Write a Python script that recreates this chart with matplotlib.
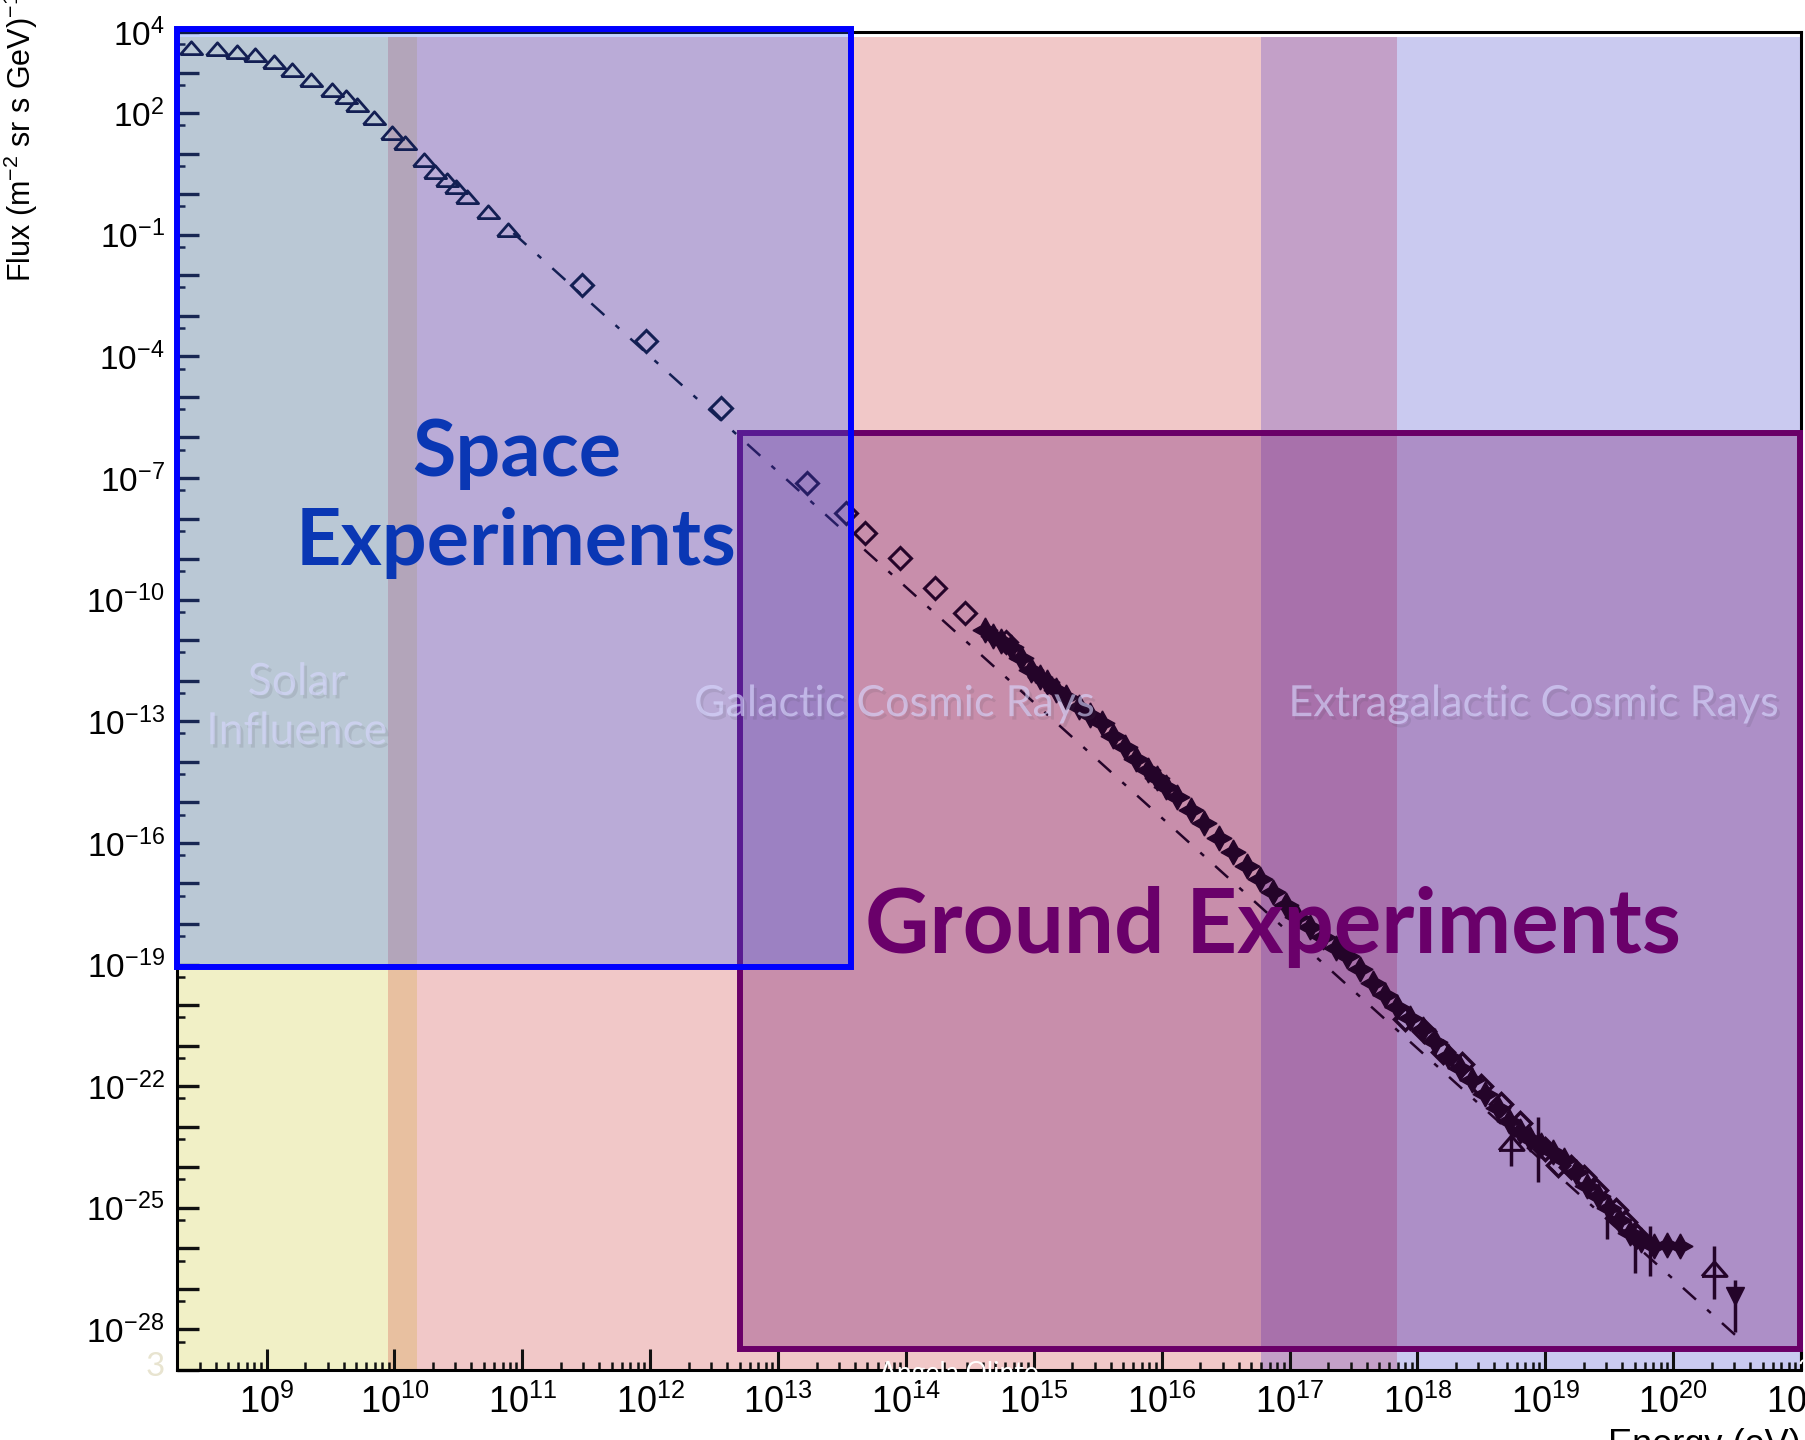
import numpy as np
import matplotlib.pyplot as plt
import matplotlib.ticker as mticker
import matplotlib.patheffects as pe
from matplotlib.patches import Rectangle

plt.rcParams['mathtext.fontset'] = 'custom'
plt.rcParams['mathtext.rm'] = 'Liberation Sans'
plt.rcParams['mathtext.it'] = 'Liberation Sans:italic'
plt.rcParams['mathtext.bf'] = 'Liberation Sans:bold'
plt.rcParams['font.family'] = ['Liberation Sans', 'DejaVu Sans']

# energy bands, log10(E/eV) edges
band_edges = [8.30, 9.95, 10.18, 16.78, 17.84, 21.0]
band_colors = ["#f1f0c6", "#e8c0a0", "#f1c8c8", "#c3a0c8", "#cacaf0"]

# low energy points (open triangles), log10 values
tri_logE = [8.41, 8.61, 8.77, 8.91, 9.06, 9.20, 9.35, 9.51, 9.62, 9.71,
            9.84, 9.98, 10.08, 10.23, 10.32, 10.41, 10.48, 10.57, 10.73, 10.89]
tri_logF = [3.60, 3.58, 3.50, 3.43, 3.26, 3.06, 2.82, 2.57, 2.39, 2.20,
            1.88, 1.52, 1.26, 0.84, 0.55, 0.35, 0.18, -0.07, -0.44, -0.88]

# direct measurements (open diamonds)
dia_logE = [11.47, 11.97, 12.55, 13.23, 13.53, 13.68, 13.95, 14.23, 14.46, 14.78]
dia_logF = [-2.24, -3.61, -5.28, -7.12, -7.86, -8.35, -8.97, -9.71, -10.32, -11.04]

# air shower data (filled stars)
star_logE = [14.62, 14.68, 14.74, 14.82, 14.90, 14.98, 15.05, 15.10, 15.17, 15.25,
             15.35, 15.44, 15.53, 15.62, 15.71, 15.80, 15.89, 15.96, 16.03, 16.12,
             16.23, 16.33, 16.45, 16.56, 16.67, 16.77, 16.87, 16.97, 17.06, 17.16,
             17.26, 17.36, 17.45, 17.55, 17.65, 17.75, 17.84, 17.94, 18.04, 18.14,
             18.24, 18.33, 18.43, 18.53, 18.63, 18.72, 18.80, 18.88, 18.97, 19.06,
             19.15, 19.24, 19.33, 19.41, 19.50, 19.58, 19.66, 19.75, 19.85, 19.95,
             20.05]
star_logF = [-10.74, -10.90, -11.02, -11.16, -11.45, -11.73, -11.90, -12.02, -12.22, -12.40,
             -12.64, -12.85, -13.04, -13.36, -13.63, -13.92, -14.19, -14.40, -14.61, -14.88,
             -15.18, -15.50, -15.88, -16.22, -16.58, -16.90, -17.22, -17.53, -17.82, -18.08,
             -18.32, -18.58, -18.80, -19.12, -19.45, -19.75, -20.04, -20.32, -20.60, -20.92,
             -21.25, -21.55, -21.85, -22.20, -22.55, -22.85, -23.10, -23.31, -23.45, -23.62,
             -23.81, -24.12, -24.45, -24.72, -25.00, -25.30, -25.61, -25.80, -25.95, -25.92,
             -25.95]

# open points in the dense UHE cloud
cloud_logE = [17.90, 18.05, 18.20, 18.35, 18.50, 18.65, 18.80, 19.00, 19.10, 19.20,
              19.30, 19.40, 19.55, 19.62, 19.72]
cloud_logF = [-20.35, -20.65, -21.15, -21.45, -22.00, -22.45, -22.90, -23.55, -23.95, -24.00,
              -24.25, -24.55, -25.05, -25.35, -25.70]

# points with error bars
err_logE = [18.73, 18.94, 19.48, 19.70, 19.82, 20.32, 20.48]
err_logF = [-23.39, -23.50, -25.20, -25.90, -26.00, -26.52, -27.18]
err_lo = [-23.98, -24.37, -25.78, -26.60, -26.69, -27.26, -28.07]
err_hi = [-22.82, -22.75, -24.80, -25.60, -25.46, -25.95, -26.77]

# reference power law (dash-dot)
line_logE = [10.93, 20.55]
line_logF = [-0.96, -28.32]

# experiment boxes: logE0, logE1, logF0, logF1
space_box = (8.30, 13.57, -19.05, 4.07)
ground_box = (12.70, 20.99, -28.47, -5.89)

yticks_labelled = [4, 2, -1, -4, -7, -10, -13, -16, -19, -22, -25, -28]


def p10(v):
    return np.power(10.0, np.asarray(v, dtype=float))


def box(ax, b, **kw):
    x0, x1, y0, y1 = p10(b)
    r = Rectangle((x0, y0), x1 - x0, y1 - y0, clip_on=False, **kw)
    ax.add_patch(r)


fig = plt.figure(figsize=(18.05, 14.4), dpi=100)
ax = fig.add_axes([0.0981, 0.0486, 0.8997, 0.9292])
ax.set_xscale('log')
ax.set_yscale('log')
ax.set_xlim(10 ** 8.30, 1e21)
ax.set_ylim(1e-29, 1e4)

for lo, hi, c in zip(band_edges[:-1], band_edges[1:], band_colors):
    ax.axvspan(10 ** lo, 10 ** hi, ymax=0.996, color=c, lw=0, zorder=0)

# data
ink = '#0a0612'
ax.plot(p10(line_logE), p10(line_logF), color=ink, lw=1.8, dashes=(7, 6, 2, 6), zorder=1.5)
flat_tri = [(-1, -0.55), (1, -0.55), (0, 0.6), (-1, -0.55)]
ax.plot(p10(tri_logE), p10(tri_logF), ls='none', marker=flat_tri, ms=16,
        mfc='none', mec=ink, mew=2, zorder=2)
ax.plot(p10(dia_logE), p10(dia_logF), ls='none', marker='D', ms=11,
        mfc='none', mec=ink, mew=2.2, zorder=2)
ax.plot(p10(cloud_logE), p10(cloud_logF), ls='none', marker='D', ms=11,
        mfc='none', mec=ink, mew=2.5, zorder=2)
ax.plot(p10(star_logE), p10(star_logF), ls='none', marker=(4, 1, 0), ms=18,
        color=ink, zorder=2)
ax.vlines(p10(err_logE), p10(err_lo), p10(err_hi), color=ink, lw=2.5, zorder=2)
ax.plot(p10([err_logE[0], err_logE[5]]), p10([err_logF[0], err_logF[5]]), ls='none',
        marker=flat_tri, ms=18, mfc='none', mec=ink, mew=2.2, zorder=2)
ax.plot(p10(err_logE[6]), p10(err_logF[6]), ls='none', marker='v', ms=13,
        color=ink, zorder=2)

# axes styling
for s in ax.spines.values():
    s.set_linewidth(2.2)
ax.xaxis.set_major_locator(mticker.LogLocator(base=10, numticks=40))
ax.xaxis.set_minor_locator(mticker.LogLocator(base=10, subs=np.arange(2, 10), numticks=40))
ax.xaxis.set_minor_formatter(mticker.NullFormatter())
ax.yaxis.set_major_locator(mticker.FixedLocator(p10(np.arange(-29, 5))))
ax.yaxis.set_minor_locator(mticker.FixedLocator(5 * p10(np.arange(-29, 4))))
ax.yaxis.set_minor_formatter(mticker.NullFormatter())


def ylab(v, pos):
    k = int(round(np.log10(v)))
    return f'$10^{{{k}}}$' if k in yticks_labelled else ''


ax.yaxis.set_major_formatter(mticker.FuncFormatter(ylab))
ax.tick_params(which='both', direction='in', color='#111111', top=False, right=False)
ax.tick_params(axis='x', which='major', length=15, width=2.2, labelsize=26, pad=11)
ax.tick_params(axis='x', which='minor', length=6, width=1.8)
ax.tick_params(axis='y', which='major', length=16, width=2.4, labelsize=24, pad=9)
ax.tick_params(axis='y', which='minor', length=6, width=1.8)

# experiment boxes
box(ax, ground_box, fc=(103 / 255, 0, 100 / 255, 0.29), ec='none', zorder=3)
box(ax, ground_box, fill=False, ec='#6a0068', lw=4.3, zorder=3.5)
box(ax, space_box, fc=(45 / 255, 97 / 255, 1.0, 0.28), ec='none', zorder=4)
box(ax, space_box, fill=False, ec='#0000ff', lw=4.3, zorder=6)

# labels
shadow = [pe.SimplePatchShadow(offset=(2, -2.5), alpha=0.12), pe.Normal()]
soft = dict(color='#d8d8ff', alpha=0.62, family='Lato', ha='center', va='center',
            zorder=5, path_effects=shadow)
fig.text(0.1645, 0.509, 'Solar\nInfluence', fontsize=32, linespacing=1.25, **soft)
fig.text(0.495, 0.511, 'Galactic Cosmic Rays', fontsize=31, **soft)
fig.text(0.849, 0.511, 'Extragalactic Cosmic Rays', fontsize=31, **soft)

fig.text(0.286, 0.654, 'Space\nExperiments', fontsize=57, fontweight='bold',
         family='Lato', color='#0a37b4', ha='center', va='center', linespacing=1.29,
         zorder=7)
fig.text(0.705, 0.356, 'Ground Experiments', fontsize=64, fontweight='bold',
         family='Lato', color='#6a006a', ha='center', va='center', zorder=7)

# axis titles, cut by the figure edge as in the scan
fig.text(0.0115, 0.804, 'Flux (m$^{-2}$ sr s GeV)$^{-1}$', rotation=90,
         ha='center', va='bottom', fontsize=22)
fig.text(0.9978, 0.0083, 'Energy (eV)', ha='right', va='top', fontsize=26)

# slide footer remnants
fig.text(0.531, 0.0465, 'Angela Olinto', color='white', fontsize=19, family='Lato',
         ha='center', va='center')
fig.text(0.086, 0.051, '3', color='#e8e4d0', fontsize=24, family='Lato',
         ha='center', va='center')
fig.text(0.996, 0.049, '2', color='white', fontsize=18, family='Lato',
         ha='left', va='center')

fig.savefig('out.png', dpi=100)
